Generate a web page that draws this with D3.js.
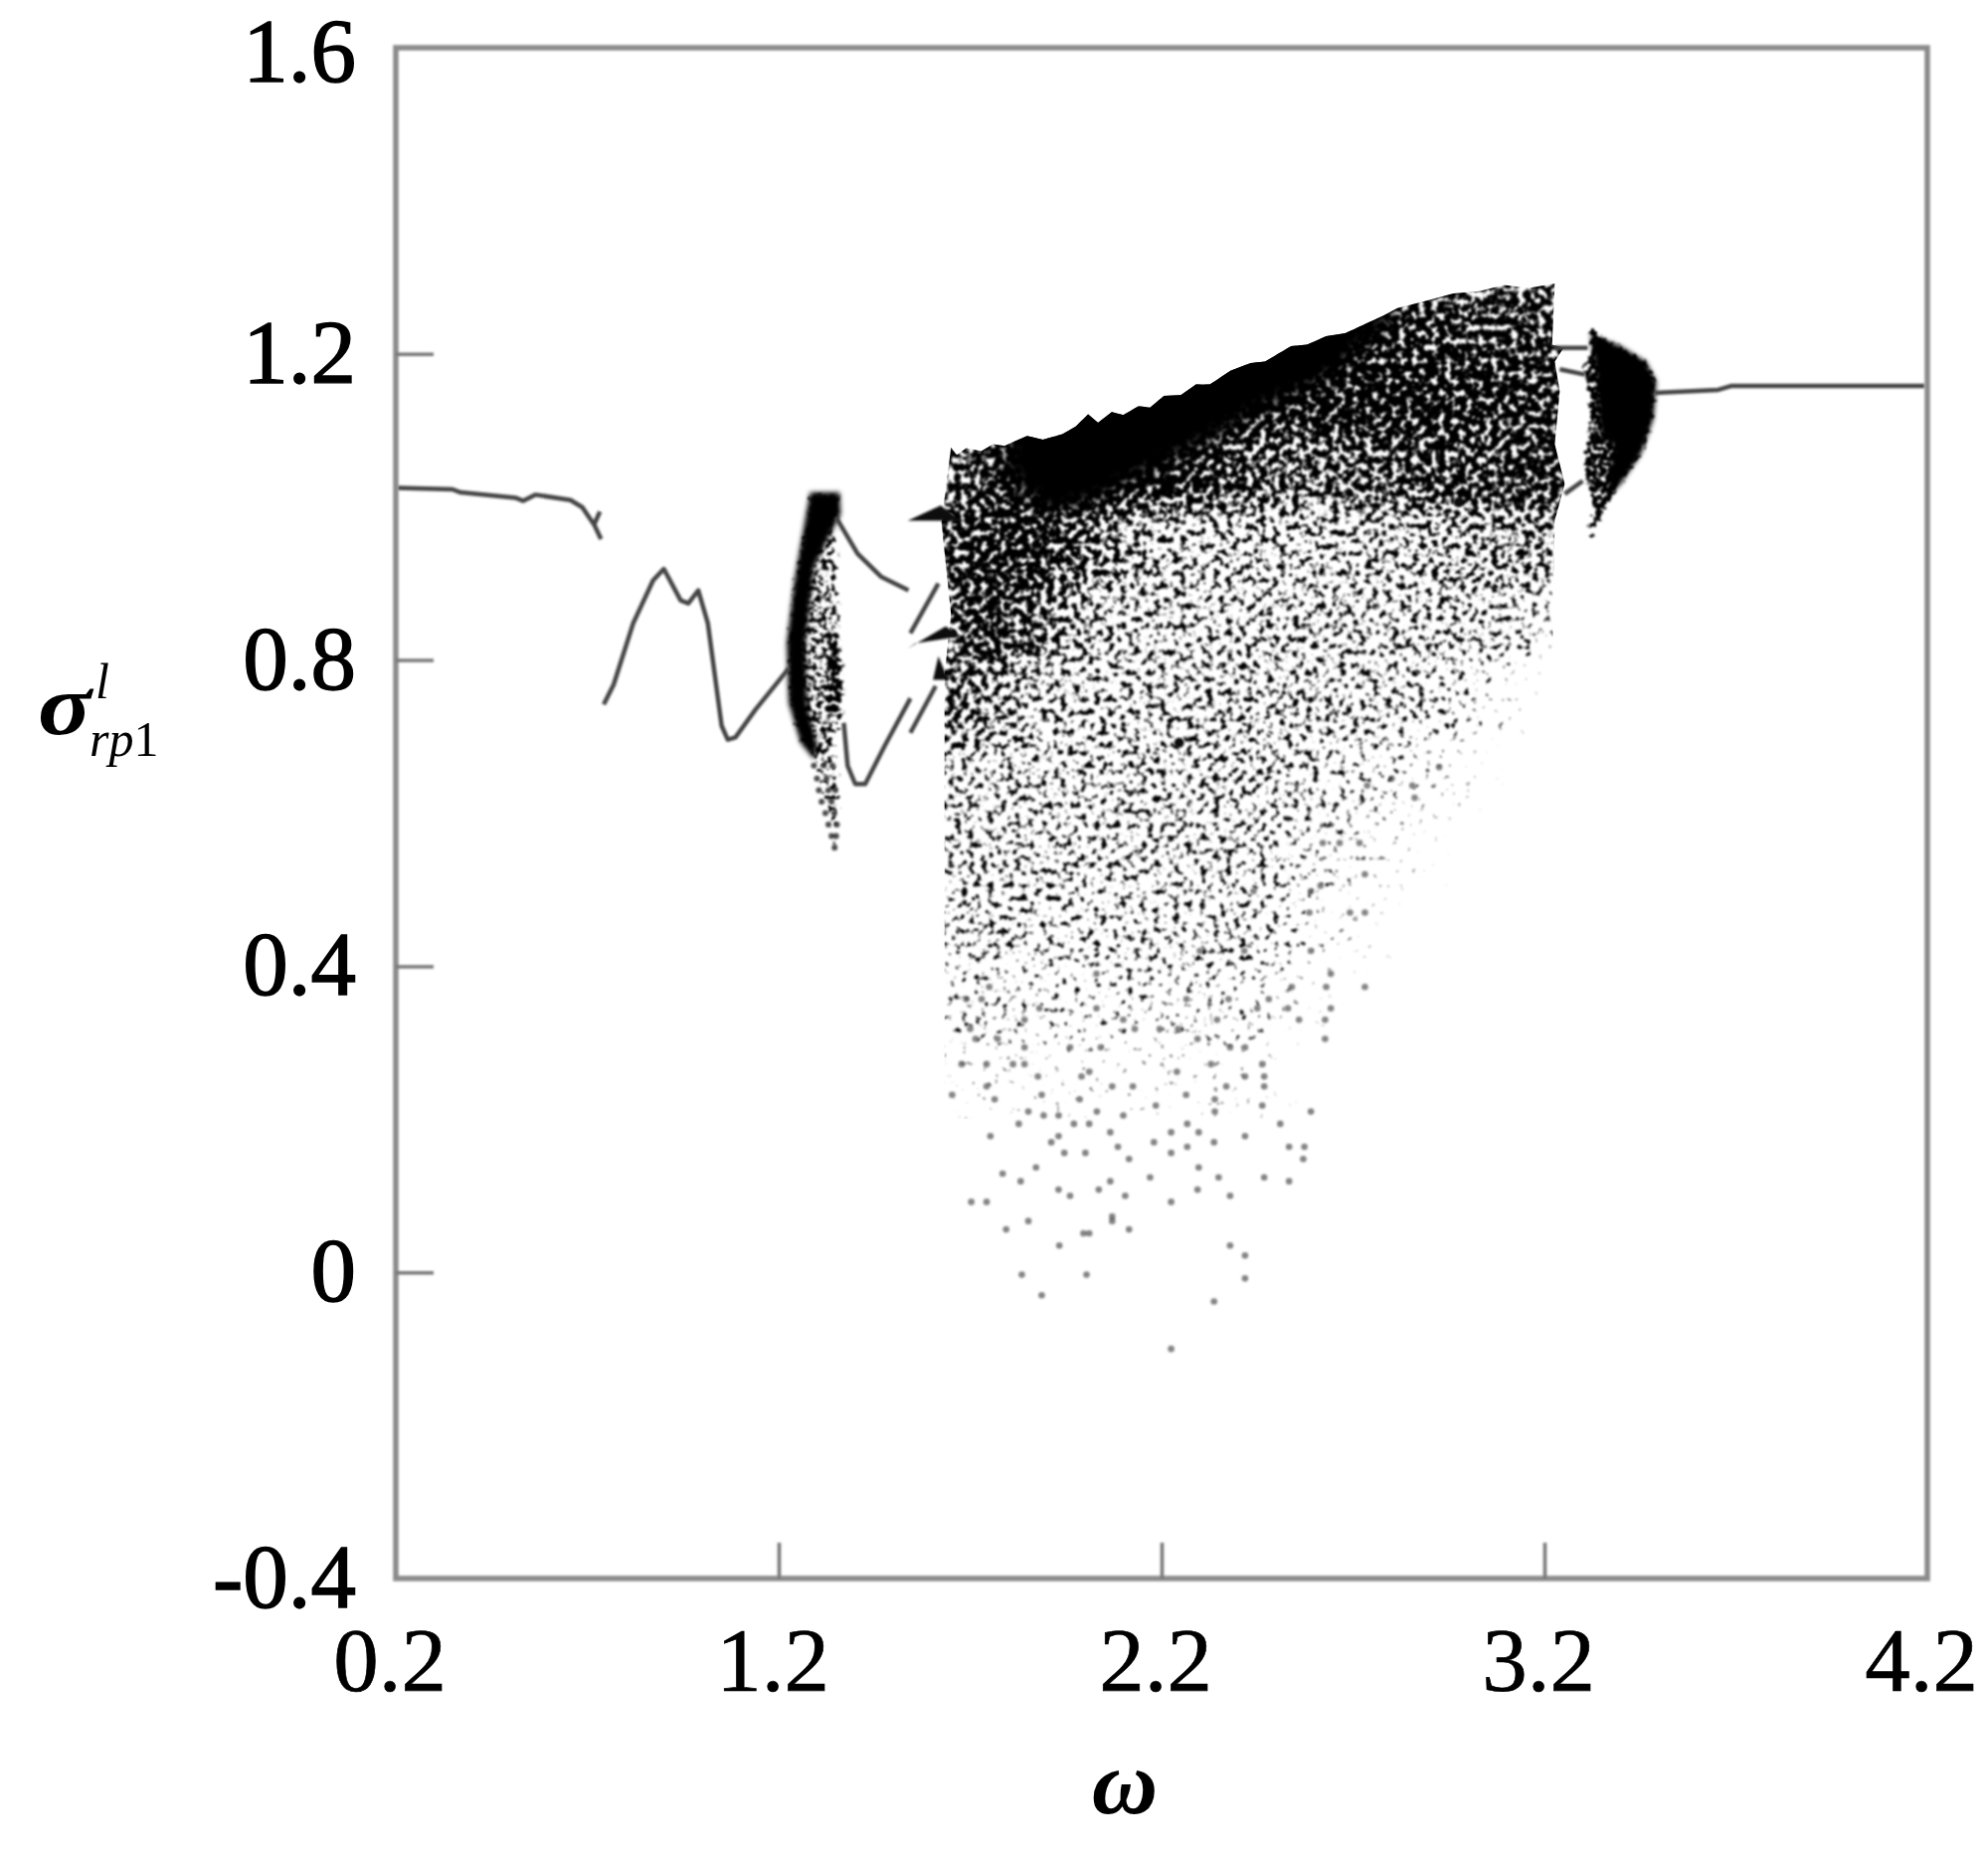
<!DOCTYPE html>
<html><head><meta charset="utf-8">
<script src="https://cdn.jsdelivr.net/npm/d3@7"></script>
<style>html,body{margin:0;background:#fff}svg{display:block}text{font-family:"Liberation Serif",serif;fill:#000}</style>
</head><body><svg id="c" width="1999" height="1866"></svg>
<script>
const xTicks=[1.2,2.2,3.2], yTicks=[0,0.4,0.8,1.2];
const xLabels=["0.2","1.2","2.2","3.2","4.2"], xLabelVals=[0.2,1.2,2.2,3.2,4.2];
const yLabels=["-0.4","0","0.4","0.8","1.2","1.6"], yLabelVals=[-0.4,0,0.4,0.8,1.2,1.6];

const branches=[
 [[.204,1.025],[.348,1.023],[.369,1.019],[.512,1.012],[.533,1.008],[.564,1.016],[.656,1.009],[.687,.9996],[.718,.977],[.733,.994]],
 [[.718,.977],[.736,.958]],
 [[.743,.742],[.769,.768],[.820,.848],[.872,.904],[.900,.919],[.944,.878],[.964,.874],[.990,.891],[1.015,.848],[1.051,.714],[1.067,.696],[1.087,.699],[1.139,.735],[1.226,.789]],
 [[1.349,.987],[1.406,.939],[1.467,.909],[1.539,.891]],
 [[1.370,.718],[1.380,.662],[1.400,.638],[1.426,.638],[1.477,.688],[1.544,.750]],
 [[1.544,.705],[1.610,.766]],
 [[1.544,.835],[1.617,.900]],
 [[3.227,1.208],[3.313,1.208]],
 [[3.24,1.18],[3.306,1.173]],
 [[3.253,1.017],[3.30,1.034]],
 [[3.488,1.149],[3.654,1.153],[3.687,1.158],[4.193,1.158]]
];
const spikes=[
 [[1.537,.982],[1.623,1.002],[1.676,.982],[1.623,.982]],
 [[1.537,.815],[1.636,.844],[1.676,.831],[1.557,.822]],
 [[1.603,.774],[1.617,.805],[1.643,.774]]
];
const densityX=[1.65,1.75,1.85,1.95,2.05,2.15,2.25,2.35,2.45,2.55,2.65,2.75,2.85,2.95,3.05,3.15,3.25];
const densityY=[1.25,1.15,1.05,.95,.85,.75,.65,.55,.45,.35,.25];
const densityA=[
 [0,0,0,0,0,0,0,0,0,.8,.95,.95,.92,.88,.87,.87,.87],
 [.6,.6,.7,.85,.9,.9,.85,.9,1,1,1,1,.98,.95,.93,.92,.92],
 [.78,.92,1,1,1,1,.97,.88,.82,.76,.8,.82,.84,.88,.86,.9,.94],
 [.9,.95,.95,.85,.72,.6,.56,.54,.56,.54,.54,.57,.58,.62,.62,.68,.64],
 [.85,.9,.82,.66,.55,.53,.53,.53,.55,.53,.55,.53,.53,.53,.52,.47,.18],
 [.78,.67,.56,.52,.52,.54,.52,.54,.54,.54,.52,.52,.48,.42,.31,.12,0],
 [.56,.51,.51,.51,.51,.53,.49,.53,.53,.49,.45,.39,.28,.18,.06,0,0],
 [.5,.5,.5,.5,.48,.5,.5,.5,.46,.41,.34,.23,.13,.04,0,0,0],
 [.46,.48,.46,.44,.46,.46,.44,.46,.42,.33,.2,.1,0,0,0,0,0],
 [.37,.37,.33,.33,.35,.33,.33,.35,.3,.16,.04,0,0,0,0,0,0],
 [.14,.18,.14,.14,.16,.14,.14,.16,.12,.04,0,0,0,0,0,0,0]
];
const envelope=[[1.650,1.078],[1.665,1.068],[1.690,1.077],[1.729,1.073],[1.760,1.082],[1.790,1.080],[1.849,1.093],[1.890,1.088],[1.941,1.095],[1.975,1.105],[2.008,1.121],[2.034,1.110],[2.070,1.124],[2.100,1.120],[2.140,1.132],[2.170,1.130],[2.206,1.145],[2.250,1.146],[2.290,1.160],[2.326,1.160],[2.380,1.178],[2.432,1.188],[2.470,1.190],[2.538,1.210],[2.580,1.212],[2.630,1.223],[2.680,1.227],[2.736,1.240],[2.780,1.250],[2.816,1.260],[2.880,1.268],[2.962,1.279],[3.030,1.282],[3.094,1.290],[3.160,1.286],[3.227,1.292]];
const rightEdge=[[3.22,1.212],[3.25,1.208],[3.227,1.190],[3.24,1.151],[3.227,1.082],[3.253,1.030],[3.227,.982],[3.222,.835],[3.23,.2],[1.633,.2],[1.633,.78],[1.65,.86],[1.625,.98]];
const coreBand=[[1.79,1.12],[2.2,1.2],[2.6,1.27],[2.80,1.30],[2.80,1.24],[2.72,1.205],[2.630,1.165],[2.458,1.125],[2.326,1.085],[2.167,1.046],[2.034,1.008],[1.902,.99],[1.80,1.04]];
const lensOne=[[1.282,1.019],[1.359,1.019],[1.362,.991],[1.349,.961],[1.354,.909],[1.359,.848],[1.365,.787],[1.370,.735],[1.354,.701],[1.293,.670],[1.257,.692],[1.226,.744],[1.221,.822],[1.241,.904],[1.267,.978]];
const lensOneLeft=[[1.282,1.019],[1.359,1.019],[1.362,.991],[1.330,.960],[1.292,.92],[1.270,.82],[1.275,.74],[1.300,.69],[1.293,.670],[1.257,.692],[1.226,.744],[1.221,.822],[1.241,.904],[1.267,.978]];
const lensOneRight=[[1.335,.83],[1.362,.83],[1.368,.76],[1.350,.72],[1.325,.74]];
const lensOneTail=[[1.282,.685],[1.345,.70],[1.36,.62],[1.349,.547],[1.325,.60]];
const lensTwo=[[3.313,1.238],[3.399,1.210],[3.465,1.190],[3.492,1.164],[3.485,1.116],[3.452,1.069],[3.399,1.030],[3.346,.982],[3.313,.952],[3.326,1.004],[3.30,1.047],[3.313,1.099],[3.313,1.151],[3.30,1.181],[3.32,1.203]];
const lensTwoCore=[[3.32,1.225],[3.399,1.210],[3.465,1.190],[3.492,1.164],[3.485,1.116],[3.452,1.069],[3.399,1.030],[3.36,1.01],[3.38,1.08],[3.345,1.10],[3.335,1.17]];

const dotY=[-.100,-.038,-.030,-.008,-.003,.022,.035,.051,.056,.067,.073,.092,.100,.108,.119,.124,.129,.137,.148,.156,.164,.170,.178,.183,.194,.205,.210,.218,.226,.232,.243,.256,.262,.272,.294,.305,.318,.330,.345,.357,.373,.390,.420,.470,.498,.505,.520,.561,.620,.636,.645,.660];
const dotX=[[2.225],[2.337],[1.887],[2.418],[1.835,2.004],[2.418],[2.379,1.933],[1.996,2.011],[1.794,2.115],[1.852,2.071],[2.071],[2.225,1.703,1.743],[2.105,2.379,1.961],[1.931,2.036,2.294],[2.066,1.832,2.533],[2.170,2.349,2.468],[1.785],[1.872,2.297],[2.115,2.570],[1.946,2.001,2.225],[2.086,2.267,2.533,2.573],[1.912,2.180,2.337],[1.931,2.418,1.753],[2.297,2.066,2.225],[1.971,2.011,2.267,1.827,2.510],[1.892,1.931,2.100],[1.852,2.031,2.339,2.590],[2.185,2.463],[1.764,1.986,2.339],[1.653,1.887,2.264],[1.743,2.071,2.125,2.369,2.468],[1.877,1.991,2.418,2.468],[2.240,2.011],[1.678,1.743,1.812,1.842,2.329,2.463],[1.842,1.961,2.041,2.379,2.418],[2.627,2.294,1.714,1.772],[2.243,1.700,2.130,2.195],[2.627,2.559,2.345,1.842,2.100],[1.881,2.030,2.450,2.642,2.530],[1.730,1.690,2.480,2.265,2.375],[2.731,2.540,2.630,1.750],[2.030,2.642],[2.416,2.590,2.300],[2.731,2.692,2.586],[2.590,2.440],[2.615],[2.731],[2.717,2.665,2.621],[2.861],[2.855,2.737],[2.801],[2.925]];
const darkY=[1.006,.692];
const darkX=[2.975,2.246];
const tailY=[.662,.645,.630,.615,.600,.585,.570,.555];
const tailX=[[1.292,1.318,1.340],[1.300,1.325],[1.305,1.330,1.348],[1.312,1.338],[1.322,1.345],[1.330,1.352],[1.338,1.350],[1.346]];

const x=d3.scaleLinear().domain([.2,4.2]).range([398,1938]);
const y=d3.scaleLinear().domain([-.4,1.6]).range([1587,48]);
const svg=d3.select("#c");
const defs=svg.append("defs");
function grain(id,blurIn,freq,endBlur){
 const f=defs.append("filter").attr("id",id).attr("filterUnits","userSpaceOnUse")
  .attr("x",398).attr("y",48).attr("width",1540).attr("height",1539).attr("color-interpolation-filters","sRGB");
 f.append("feGaussianBlur").attr("in","SourceAlpha").attr("stdDeviation",blurIn).attr("result","d");
 f.append("feTurbulence").attr("type","fractalNoise").attr("baseFrequency",freq).attr("numOctaves",2).attr("seed",7).attr("result","t");
 f.append("feColorMatrix").attr("in","t").attr("type","matrix").attr("values","0 0 0 0 0 0 0 0 0 0 0 0 0 0 0 0 0 0 2 -.55").attr("result","n");
 f.append("feComposite").attr("in","d").attr("in2","n").attr("operator","arithmetic").attr("k1",0).attr("k2",1).attr("k3",1).attr("k4",-1.02).attr("result","s");
 const c=f.append("feComponentTransfer").attr("in","s").attr("result","h");
 c.append("feFuncA").attr("type","linear").attr("slope",3.2);
 f.append("feGaussianBlur").attr("in","h").attr("stdDeviation",endBlur);
}
grain("grainWide",12,.15,1.2);
grain("grainSharp",2.5,.19,1);
const soft=defs.append("filter").attr("id","soft");
soft.append("feGaussianBlur").attr("stdDeviation",.9);
const soft2=defs.append("filter").attr("id","softDots");
soft2.append("feGaussianBlur").attr("stdDeviation",1.3);
const wash=defs.append("filter").attr("id","wash").attr("filterUnits","userSpaceOnUse").attr("x",398).attr("y",48).attr("width",1540).attr("height",1539);
wash.append("feGaussianBlur").attr("stdDeviation",8);
const washSmall=defs.append("filter").attr("id","washSmall").attr("filterUnits","userSpaceOnUse").attr("x",398).attr("y",48).attr("width",1540).attr("height",1539);
washSmall.append("feGaussianBlur").attr("stdDeviation",2.5);
const outline=envelope.concat(rightEdge);
defs.append("clipPath").attr("id","blob").append("polygon").attr("points",outline.map(d=>[x(d[0]),y(d[1])].join(",")).join(" "));
const pts=a=>a.map(d=>[x(d[0]),y(d[1])].join(",")).join(" ");

// main cloud, from the density table
const cloud=svg.append("g").attr("clip-path","url(#blob)");
cloud.append("g").attr("filter","url(#wash)").append("polygon").attr("points",pts(coreBand)).attr("fill","#000");
const cloudTone=cloud.append("g").attr("filter","url(#grainWide)");
densityY.forEach((yc,i)=>densityX.forEach((xc,j)=>{
 const v=densityA[i][j]; if(!v)return;
 cloudTone.append("rect").attr("x",x(xc-.05)).attr("y",y(yc+.05)).attr("width",x(.1)-x(0)).attr("height",y(0)-y(.1)).attr("fill","#000").attr("opacity",v);
}));

// attractor lenses
const lens=svg.append("g").attr("filter","url(#grainSharp)");
[[lensOne,.66],[lensOneRight,.9],[lensOneTail,.55],[lensTwo,.92]].forEach(([p,o])=>lens.append("polygon").attr("points",pts(p)).attr("fill","#000").attr("opacity",o));
const lensSolid=svg.append("g").attr("filter","url(#washSmall)");
[lensOneLeft,lensTwoCore].forEach(p=>lensSolid.append("polygon").attr("points",pts(p)).attr("fill","#000"));

// single visible points
const dots=svg.append("g").attr("filter","url(#softDots)");
dotY.forEach((v,i)=>dotX[i].forEach(u=>dots.append("circle").attr("cx",x(u)).attr("cy",y(v)).attr("r",3.3).attr("fill","#444").attr("opacity",.66)));
tailY.forEach((v,i)=>tailX[i].forEach(u=>dots.append("circle").attr("cx",x(u)).attr("cy",y(v)).attr("r",3).attr("fill","#222").attr("opacity",.8)));
darkY.forEach((v,i)=>dots.append("circle").attr("cx",x(darkX[i])).attr("cy",y(v)).attr("r",5).attr("fill","#111"));

// periodic branches
const line=d3.line().x(d=>x(d[0])).y(d=>y(d[1]));
const lines=svg.append("g").attr("filter","url(#soft)");
branches.forEach(b=>lines.append("path").attr("d",line(b)).attr("fill","none").attr("stroke","#444").attr("stroke-width",4.5).attr("stroke-linejoin","round"));
spikes.forEach(s=>lines.append("polygon").attr("points",pts(s)).attr("fill","#111"));

// frame and ticks
const frame=svg.append("g").attr("filter","url(#soft)");
frame.append("rect").attr("x",x(.2)).attr("y",y(1.6)).attr("width",x(4.2)-x(.2)).attr("height",y(-.4)-y(1.6)).attr("fill","none").attr("stroke","#8a8a8a").attr("stroke-width",5.5);
const ax=frame.append("g").attr("transform",`translate(0,${y(-.4)})`).call(d3.axisBottom(x).tickValues(xTicks).tickSize(-36).tickFormat(""));
const ay=frame.append("g").attr("transform",`translate(${x(.2)},0)`).call(d3.axisLeft(y).tickValues(yTicks).tickSize(-38).tickFormat(""));
[ax,ay].forEach(a=>{a.select(".domain").remove();a.selectAll("line").attr("stroke","#777").attr("stroke-width",3.5)});

// text
const fs=91;
xLabels.forEach((t,i)=>svg.append("text").attr("x",x(xLabelVals[i])-6).attr("y",1700).attr("text-anchor","middle").attr("font-size",fs).attr("stroke","#000").attr("stroke-width",.7).text(t));
yLabels.forEach((t,i)=>svg.append("text").attr("x",358).attr("y",y(yLabelVals[i])+(yLabelVals[i]===1.6?34:29)).attr("text-anchor","end").attr("font-size",fs).attr("stroke","#000").attr("stroke-width",1.4).text(t));
svg.append("text").attr("x",1131).attr("y",1823).attr("text-anchor","middle").attr("font-size",92).attr("font-style","italic").attr("font-weight","bold").text("ω");
svg.append("text").attr("x",38).attr("y",738).attr("font-size",86).attr("font-style","italic").attr("font-weight","bold").attr("textLength",54).attr("lengthAdjust","spacingAndGlyphs").text("σ");
svg.append("text").attr("x",96).attr("y",702).attr("font-size",50).attr("font-style","italic").text("l");
const sub=svg.append("text").attr("x",90).attr("y",760).attr("font-size",50);
sub.append("tspan").attr("font-style","italic").text("rp");
sub.append("tspan").text("1");
</script></body></html>
